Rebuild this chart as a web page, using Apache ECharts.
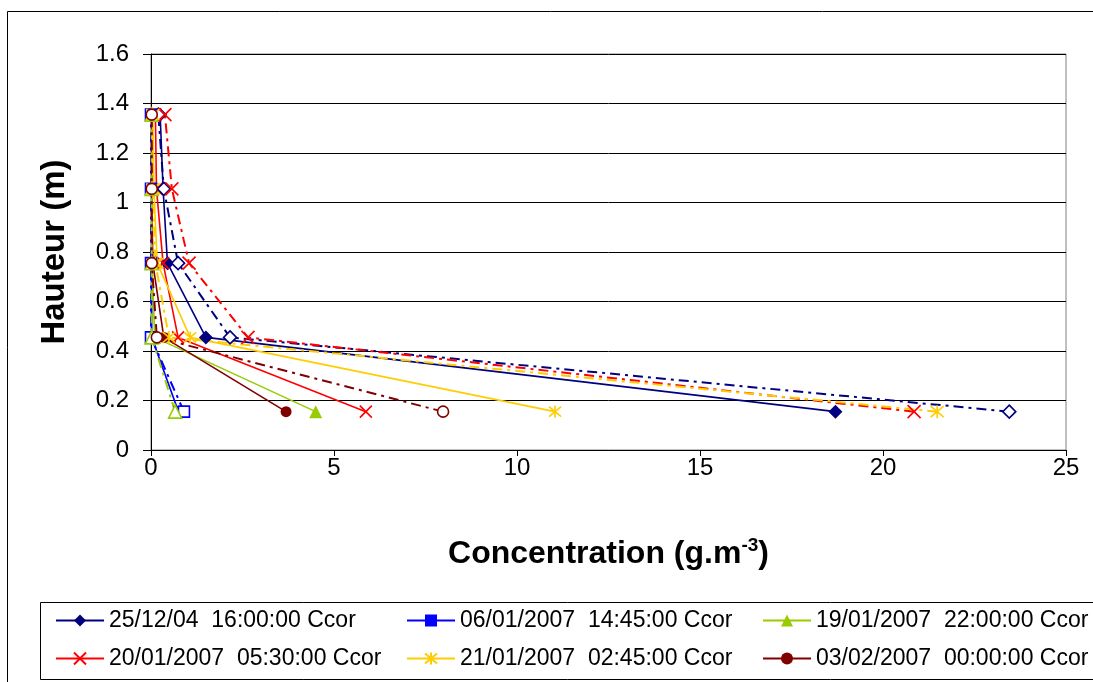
<!DOCTYPE html>
<html>
<head>
<meta charset="utf-8">
<script src="https://cdn.jsdelivr.net/npm/echarts@6/dist/echarts.min.js"></script>
<style>
  html, body { margin: 0; padding: 0; background: #fff; }
  #main { width: 1093px; height: 682px; }
</style>
</head>
<body>
<div id="main"></div>
<script>
// hauteurs de mesure (m)
var heights = [0.155, 0.455, 0.755, 1.055, 1.355];

var names = [
  '25/12/04  16:00:00 Ccor',
  '06/01/2007  14:45:00 Ccor',
  '19/01/2007  22:00:00 Ccor',
  '20/01/2007  05:30:00 Ccor',
  '21/01/2007  02:45:00 Ccor',
  '03/02/2007  00:00:00 Ccor'
];
// séries en tirets-points (hors légende visible)
var names2 = [
  '25/12/04  16:00:00 (2)',
  '06/01/2007  14:45:00 (2)',
  '19/01/2007  22:00:00 (2)',
  '20/01/2007  05:30:00 (2)',
  '21/01/2007  02:45:00 (2)',
  '03/02/2007  00:00:00 (2)'
];

// concentrations Ccor (g.m-3), même ordre que heights
var c2512 = [18.7, 1.5, 0.45, 0.33, 0.25];
var c0601 = [0.75, 0.02, 0.02, 0.02, 0.02];
var c1901 = [4.5, 0.1, 0.03, 0.03, 0.03];
var c2001 = [5.87, 0.74, 0.33, 0.15, 0.12];
var c2101 = [11.04, 1.07, 0.17, 0.08, 0.05];
var c0302 = [3.69, 0.35, 0.05, 0.02, 0.02];

// concentrations en tirets-points
var d2512 = [23.45, 2.16, 0.74, 0.35, 0.2];
var d0601 = [0.9, 0.0, 0.0, 0.0, 0.0];
var d1901 = [0.66, 0.02, 0.02, 0.02, 0.02];
var d2001 = [20.85, 2.65, 1.04, 0.57, 0.38];
var d2101 = [21.48, 0.49, 0.12, 0.05, 0.05];
var d0302 = [7.98, 0.16, 0.02, 0.02, 0.02];

var xTicks = [0, 5, 10, 15, 20, 25];

var colors = ['#000080', '#0000ff', '#99cc00', '#ff0000', '#ffcc00', '#800000'];
var crossPath = 'path://M0,0L10,10M10,0L0,10';
var starPath = 'path://M0,0L10,10M10,0L0,10M5,-1L5,11';

function pairs(xs) {
  return xs.map(function (x, i) { return [x, heights[i]]; });
}

function mkSeries(name, xs, color, symbol, size, hollow, dashed) {
  var isPath = symbol.indexOf('path://') === 0;
  return {
    name: name,
    type: 'line',
    data: pairs(xs),
    symbol: symbol,
    symbolSize: size,
    showAllSymbol: true,
    lineStyle: {
      color: color,
      width: dashed ? 2 : 1.6,
      type: dashed ? [10, 5, 3, 5] : 'solid'
    },
    itemStyle: {
      color: hollow ? '#ffffff' : color,
      borderColor: color,
      borderWidth: (hollow || isPath) ? 1.6 : 0
    },
    emphasis: { disabled: true }
  };
}

var series = [
  mkSeries(names[0], c2512, colors[0], 'diamond', 14, false, false),
  mkSeries(names[1], c0601, colors[1], 'rect', 11, false, false),
  mkSeries(names[2], c1901, colors[2], 'triangle', 13, false, false),
  mkSeries(names[3], c2001, colors[3], crossPath, 12, false, false),
  mkSeries(names[4], c2101, colors[4], starPath, 12, false, false),
  mkSeries(names[5], c0302, colors[5], 'circle', 11, false, false),
  mkSeries(names2[0], d2512, colors[0], 'diamond', 13, true, true),
  mkSeries(names2[1], d0601, colors[1], 'rect', 11, true, true),
  mkSeries(names2[2], d1901, colors[2], 'triangle', 13, true, true),
  mkSeries(names2[3], d2001, colors[3], crossPath, 13, false, true),
  mkSeries(names2[4], d2101, colors[4], starPath, 13, false, true),
  mkSeries(names2[5], d0302, colors[5], 'circle', 11, true, true)
];

var legendBase = {
  orient: 'vertical',
  top: 609,
  padding: 0,
  itemGap: 15,
  itemWidth: 48,
  itemHeight: 15,
  selectedMode: false,
  textStyle: { fontFamily: 'Liberation Sans, Arial', fontSize: 23, color: '#000', lineHeight: 23 }
};

var myChart = echarts.init(document.getElementById('main'));
var option = {
  animation: false,
  backgroundColor: '#fff',
  textStyle: { fontFamily: 'Liberation Sans, Arial' },
  grid: {
    left: 151, right: 27, top: 54, bottom: 232,
    show: true, borderColor: '#808080', borderWidth: 1, backgroundColor: 'transparent'
  },
  legend: [
    Object.assign({}, legendBase, { left: 55, data: [names[0], names[3]] }),
    Object.assign({}, legendBase, { left: 406, data: [names[1], names[4]] }),
    Object.assign({}, legendBase, { left: 762, data: [names[2], names[5]] })
  ],
  graphic: [
    { type: 'rect', silent: true, z: -1,
      shape: { x: 7.5, y: 11.5, width: 1200, height: 800 },
      style: { fill: 'none', stroke: '#000', lineWidth: 1 } },
    { type: 'rect', silent: true, z: -1,
      shape: { x: 40.5, y: 602.5, width: 1200, height: 77 },
      style: { fill: 'none', stroke: '#000', lineWidth: 1 } }
  ],
  xAxis: {
    type: 'value',
    min: xTicks[0],
    max: xTicks[xTicks.length - 1],
    interval: 5,
    name: '{b|Concentration (g.m}{s|-3}{b|)}',
    nameLocation: 'middle',
    nameGap: 86,
    nameTextStyle: {
      rich: {
        b: { fontFamily: 'Liberation Sans, Arial', fontSize: 32, fontWeight: 'bold', color: '#000' },
        s: { fontFamily: 'Liberation Sans, Arial', fontSize: 19, fontWeight: 'bold', color: '#000', padding: [0, 0, 18, 0] }
      }
    },
    axisLine: { show: true, onZero: false, lineStyle: { color: '#000', width: 1 } },
    axisTick: { show: true, inside: false, length: 6, lineStyle: { color: '#000' } },
    axisLabel: { fontSize: 24, color: '#000', margin: 6 },
    splitLine: { show: false }
  },
  yAxis: {
    type: 'value',
    min: 0,
    max: 1.6,
    interval: 0.2,
    name: 'Hauteur (m)',
    nameLocation: 'middle',
    nameGap: 80,
    nameRotate: 90,
    nameTextStyle: { fontSize: 33, fontWeight: 'bold', color: '#000' },
    axisLine: { show: true, lineStyle: { color: '#000', width: 1 } },
    axisTick: { show: true, inside: false, length: 8, lineStyle: { color: '#000' } },
    axisLabel: { fontSize: 24, color: '#000', margin: 22 },
    splitLine: { show: true, lineStyle: { color: '#000', width: 1 } }
  },
  series: series
};

myChart.setOption(option);
</script>
</body>
</html>
